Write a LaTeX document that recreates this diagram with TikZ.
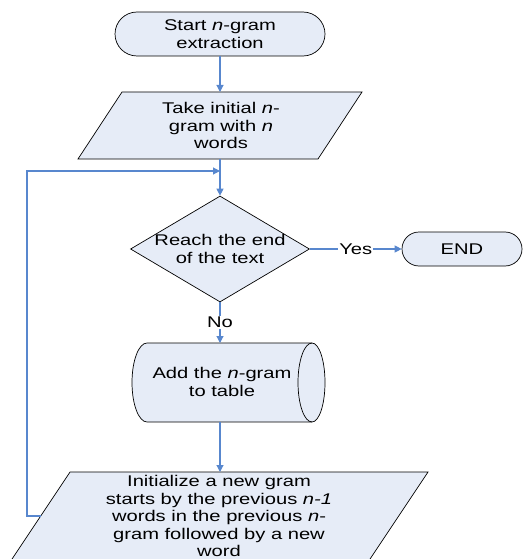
\documentclass[tikz,border=0pt]{standalone}
\usepackage{fontspec}
\setmainfont{Liberation Sans}[FakeStretch=1.3]
\usetikzlibrary{shapes.geometric,shapes.misc,arrows.meta}
\definecolor{boxfill}{RGB}{230,236,247}
\definecolor{linkblue}{RGB}{88,135,206}
\begin{document}
\begin{tikzpicture}[x=1pt,y=1pt,
  every node/.style={font=\fontsize{15.5}{17.5}\selectfont},
  shapebox/.style={draw=black, fill=boxfill, line width=0.7pt},
  txt/.style={align=center, inner sep=0pt},
  anchorbox/.style={inner sep=0pt, outer sep=0pt},
  link/.style={draw=linkblue, line width=1.1pt, -{Triangle[length=7pt,width=7pt]}},
  lbl/.style={fill=white, inner sep=1pt}]
\useasboundingbox (0,0) rectangle (529,-559);

% start terminal
\node[rounded rectangle, shapebox, minimum width=210pt, minimum height=44pt,
      inner sep=0pt, align=center] (start) at (220,-34) {Start \textit{n}-gram\\extraction};

% first parallelogram
\path[shapebox] (122,-92) -- (362,-92) -- (318,-159) -- (78,-159) -- cycle;
\node[anchorbox, minimum width=240pt, minimum height=67pt] (takebox) at (220,-125.5) {};
\node[txt] (take) at (221,-125.5) {Take initial \textit{n}-\\gram with \textit{n}\\words};

% decision
\node[diamond, shapebox, minimum width=179pt, minimum height=106pt, inner sep=0pt] (dec) at (220,-249) {};
\node[txt] (dectxt) at (dec) {Reach the end\\of the text};

% end terminal
\node[rounded rectangle, shapebox, minimum width=120pt, minimum height=34pt,
      inner sep=0pt] (end) at (462,-249) {END};

% cylinder (storage)
\path[shapebox] (147,-343) -- (312,-343)
   arc[start angle=90, end angle=-90, x radius=13, y radius=39.5]
   -- (147,-422)
   arc[start angle=270, end angle=90, x radius=15, y radius=39.5] -- cycle;
\draw[black, line width=0.7pt] (312,-343) arc[start angle=90, end angle=270, x radius=14, y radius=39.5];
\node[anchorbox, minimum width=193pt, minimum height=79pt] (cyl) at (228.5,-382.5) {};
\node[txt] (cyltxt) at (222,-382) {Add the \textit{n}-gram\\to table};

% second parallelogram
\path[shapebox] (70,-472) -- (428,-472) -- (368.7,-561) -- (10.7,-561) -- cycle;
\node[anchorbox, minimum width=358pt, minimum height=89pt] (initbox) at (219.35,-516.5) {};
\node[txt] (init) at (219,-516) {Initialize a new gram\\starts by the previous \textit{n-1}\\words in the previous \textit{n}-\\gram followed by a new\\word};

% coordinates
\coordinate (fb) at (40.7,-516);
\coordinate (join) at (220,-171);

% connectors
\draw[link] (start.south) -- (takebox.north);
\draw[link] (takebox.south) -- (dec.north);
\draw[link] (dec.east) -- node[lbl] {Yes} (end.west);
\draw[link] (dec.south) -- node[lbl] {No} (dec.south |- cyl.north);
\draw[link] (dec.south |- cyl.south) -- (dec.south |- initbox.north);
\draw[link] (fb) -- (27,-516) -- (27,-171) -- (join);
\end{tikzpicture}
\end{document}
